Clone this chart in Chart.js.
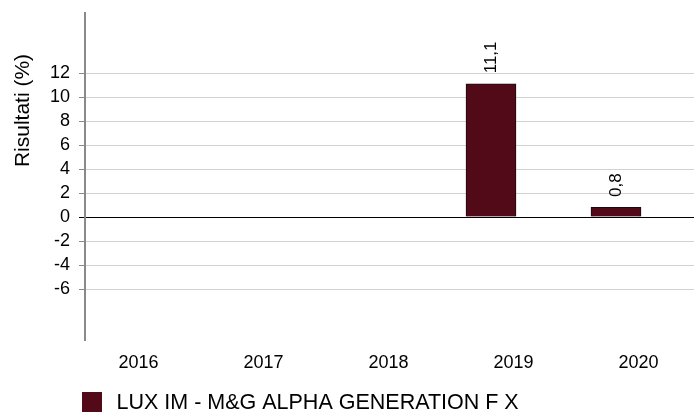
<!DOCTYPE html>
<html>
<head>
<meta charset="utf-8">
<script src="https://cdn.jsdelivr.net/npm/chart.js@4/dist/chart.umd.min.js"></script>
<style>
  html, body { margin: 0; padding: 0; background: #ffffff; }
  canvas { display: block; }
</style>
</head>
<body>
<canvas id="c" width="694" height="412"></canvas>
<script>
// ---- data ----
const categories = ["2016", "2017", "2018", "2019", "2020"];
const seriesName = "LUX IM - M&G ALPHA GENERATION F X";
const seriesValues = [null, null, null, 11.1, 0.8];
const valueLabels = [null, null, null, "11,1", "0,8"];
const yTickValues = [-6, -4, -2, 0, 2, 4, 6, 8, 10, 12];
const yTitle = "Risultati (%)";

const FONT = "'Liberation Sans', Arial, sans-serif";
const BAR_COLOR = "#520a19";

// x ranges (category index units)
const xMin = -0.248, xMax = 4.624, labelShift = 0.18;

const points = categories.map((c, i) => ({ x: i, y: seriesValues[i] }));

const overlay = {
  id: 'overlay',
  afterDatasetsDraw(chart) {
    const ctx = chart.ctx;
    const meta = chart.getDatasetMeta(0);
    ctx.save();
    ctx.fillStyle = '#000';
    ctx.font = "17px " + FONT;
    ctx.textBaseline = 'middle';
    ctx.textAlign = 'left';
    meta.data.forEach((bar, i) => {
      if (seriesValues[i] === null || !valueLabels[i]) return;
      ctx.save();
      ctx.translate(bar.x, bar.y - 10.5);
      ctx.rotate(-Math.PI / 2);
      ctx.fillText(valueLabels[i], 0, 0);
      ctx.restore();
    });
    ctx.restore();
  },
  afterDraw(chart) {
    const ctx = chart.ctx;
    ctx.save();
    // y axis title
    ctx.fillStyle = '#000';
    ctx.font = "21px " + FONT;
    ctx.textAlign = 'center';
    ctx.textBaseline = 'alphabetic';
    ctx.translate(28.5, 110.5);
    ctx.rotate(-Math.PI / 2);
    ctx.fillText(yTitle, 0, 0);
    ctx.restore();
    // legend
    ctx.save();
    ctx.fillStyle = chart.data.datasets[0].backgroundColor;
    ctx.fillRect(82, 392, 20, 20);
    ctx.fillStyle = '#000';
    ctx.font = "21.5px " + FONT;
    ctx.textAlign = 'left';
    ctx.textBaseline = 'alphabetic';
    ctx.fillText(chart.data.datasets[0].label, 116.5, 408.5);
    ctx.restore();
  }
};

new Chart(document.getElementById('c'), {
  type: 'bar',
  data: {
    datasets: [{
      label: seriesName,
      data: points,
      backgroundColor: BAR_COLOR,
      borderColor: '#1a0a0d',
      borderWidth: 1,
      barThickness: 50
    }]
  },
  options: {
    responsive: false,
    animation: false,
    events: [],
    layout: { padding: { top: 13, left: 0, right: 0, bottom: 0 } },
    plugins: { legend: { display: false }, tooltip: { enabled: false } },
    scales: {
      x: {
        type: 'linear',
        display: false,
        offset: false,
        min: xMin,
        max: xMax
      },
      xl: {
        type: 'linear',
        position: 'bottom',
        offset: false,
        min: xMin - labelShift,
        max: xMax - labelShift,
        grid: { display: false },
        border: { display: false },
        afterBuildTicks: (s) => { s.ticks = categories.map((c, i) => ({ value: i })); },
        afterFit: (s) => { s.height = 72; s.paddingLeft = 0; s.paddingRight = 0; },
        ticks: {
          autoSkip: false,
          maxRotation: 0,
          minRotation: 0,
          padding: 4,
          color: '#000',
          font: { family: FONT, size: 18 },
          callback: (v) => categories[v]
        }
      },
      y: {
        type: 'linear',
        min: -10.25,
        max: 17,
        afterBuildTicks: (s) => { s.ticks = yTickValues.map(v => ({ value: v })); },
        afterFit: (s) => { s.width = 85; s.paddingTop = 0; s.paddingBottom = 0; },
        border: { display: true, color: '#8a8a8a', width: 2 },
        grid: {
          color: (c) => (c.tick && c.tick.value === 0) ? '#000000' : '#d2d2d2',
          tickColor: (c) => (c.tick && c.tick.value === 0) ? '#000000' : '#8a8a8a',
          lineWidth: 1,
          tickLength: 6,
          drawTicks: true
        },
        ticks: {
          padding: 9,
          color: '#000',
          font: { family: FONT, size: 18 },
          callback: (v) => String(v)
        }
      }
    }
  },
  plugins: [overlay]
});
</script>
</body>
</html>
